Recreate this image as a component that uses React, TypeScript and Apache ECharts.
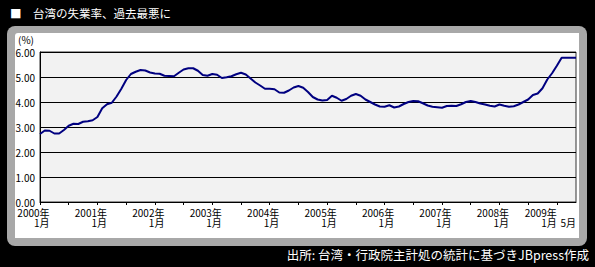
import React, { useEffect, useRef } from "react";
import * as echarts from "echarts";

const startYear = 2000;
const monthCount = 113; // 2000年1月 .. 2009年5月
const months: string[] = [];
for (let i = 0; i < monthCount; i++) {
  months.push(`${startYear + Math.floor(i / 12)}-${(i % 12) + 1}`);
}

// 台湾の失業率 (%)
const rate: number[] = [
  2.72, 2.86, 2.85, 2.74, 2.74, 2.88, 3.05, 3.13, 3.12, 3.21, 3.23, 3.27,
  3.40, 3.75, 3.91, 3.97, 4.22, 4.53, 4.88, 5.12, 5.21, 5.28, 5.26, 5.18,
  5.14, 5.13, 5.05, 5.04, 5.03, 5.17, 5.30, 5.35, 5.35, 5.25, 5.08, 5.05,
  5.12, 5.09, 4.96, 4.99, 5.03, 5.11, 5.17, 5.10, 4.94, 4.78, 4.66, 4.53,
  4.53, 4.51, 4.38, 4.37, 4.46, 4.58, 4.64, 4.57, 4.40, 4.20, 4.10, 4.06,
  4.08, 4.25, 4.17, 4.05, 4.12, 4.25, 4.32, 4.25, 4.10, 4.00, 3.90, 3.82,
  3.81, 3.87, 3.78, 3.82, 3.92, 4.00, 4.04, 4.03, 3.95, 3.86, 3.81, 3.79,
  3.77, 3.84, 3.85, 3.84, 3.91, 4.00, 4.04, 4.00, 3.94, 3.90, 3.85, 3.82,
  3.90, 3.85, 3.81, 3.83, 3.90, 4.00, 4.10, 4.28, 4.34, 4.55, 4.90, 5.15,
  5.45, 5.77, 5.77, 5.77, 5.77,
];

const yearLabels = [
  "2000年", "2001年", "2002年", "2003年", "2004年",
  "2005年", "2006年", "2007年", "2008年", "2009年",
];
const janLabel = "1月";
const lastMonthLabel = "5月";
const yMin = 0;
const yMax = 6;
const yInterval = 1;

const titleText = "■　台湾の失業率、過去最悪に";
const sourceText = "出所: 台湾・行政院主計処の統計に基づきJBpress作成";
const unitText = "(%)";

const FONT = "'Noto Sans CJK JP', 'Noto Sans', sans-serif";

const lastIdx = monthCount - 1;
const lastJanIdx = 108;

function showLabel(index: number): boolean {
  return (index % 12 === 2 && index < lastJanIdx) || index === lastJanIdx || index === lastIdx;
}

export default function App() {
  const ref = useRef<HTMLDivElement>(null);
  useEffect(() => {
    if (!ref.current) return;
    const chart = echarts.init(ref.current, undefined, { renderer: "svg" });
    chart.setOption({
      animation: false,
      backgroundColor: "#000000",
      title: [
        {
          text: titleText,
          left: 10,
          top: 7,
          padding: 0,
          textStyle: { color: "#ffffff", fontSize: 11.5, fontWeight: "normal", fontFamily: FONT },
        },
        {
          text: sourceText,
          right: 6,
          top: 248,
          padding: 0,
          textStyle: { color: "#ffffff", fontSize: 12.5, fontWeight: "normal", fontFamily: FONT },
        },
      ],
      graphic: [
        {
          type: "rect",
          z: -10,
          silent: true,
          shape: { x: 7, y: 26, width: 580, height: 220, r: 8 },
          style: { fill: "#a8a8a8" },
        },
        {
          type: "rect",
          z: -9,
          silent: true,
          shape: { x: 15, y: 33, width: 564, height: 205, r: [3, 0, 0, 0] },
          style: { fill: "#ffffff" },
        },
        {
          type: "text",
          z: 10,
          silent: true,
          x: 18,
          y: 34,
          style: { text: unitText, fill: "#000000", fontSize: 10, lineHeight: 10, fontFamily: FONT },
        },
      ],
      grid: {
        left: 40,
        right: 19,
        top: 52,
        bottom: 65,
        show: true,
        backgroundColor: "#f2f2f2",
        borderColor: "#333333",
        borderWidth: 1,
      },
      xAxis: {
        type: "category",
        data: months,
        boundaryGap: false,
        axisLine: { lineStyle: { color: "#000000", width: 1 } },
        axisTick: {
          show: true,
          length: 3,
          interval: (index: number) => index % 6 === 0,
          lineStyle: { color: "#000000" },
        },
        axisLabel: {
          interval: (index: number) => showLabel(index),
          formatter: (_v: string, index: number) => {
            if (index === lastIdx) return "\n" + lastMonthLabel;
            return yearLabels[Math.floor(index / 12)] + "\n" + janLabel;
          },
          align: "right",
          color: "#000000",
          fontSize: 10,
          lineHeight: 10.5,
          margin: 5,
          fontFamily: FONT,
        },
        splitLine: { show: false },
      },
      yAxis: {
        type: "value",
        min: yMin,
        max: yMax,
        interval: yInterval,
        axisLine: { show: true, lineStyle: { color: "#000000", width: 1 } },
        axisTick: { show: false },
        axisLabel: {
          formatter: (v: number) => v.toFixed(2),
          color: "#000000",
          fontSize: 10,
          lineHeight: 9,
          margin: 5,
          fontFamily: FONT,
        },
        splitLine: { show: true, lineStyle: { color: "#000000", width: 1 } },
      },
      series: [
        {
          type: "line",
          data: rate,
          showSymbol: false,
          symbol: "none",
          smooth: false,
          lineStyle: { color: "#000080", width: 2 },
          z: 5,
        },
      ],
    });
    return () => chart.dispose();
  }, []);
  return (
    <div
      ref={ref}
      style={{ position: "fixed", left: 0, top: 0, width: 595, height: 267 }}
    />
  );
}
